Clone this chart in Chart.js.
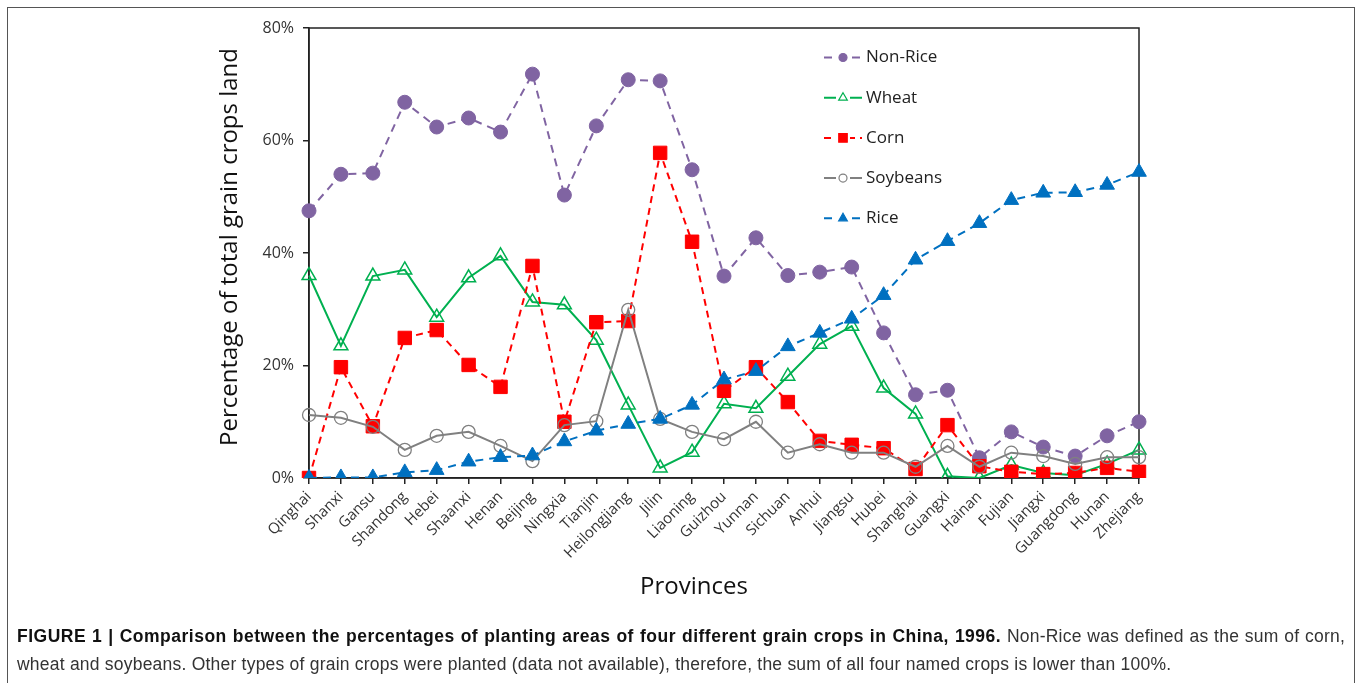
<!DOCTYPE html>
<html>
<head>
<meta charset="utf-8">
<script src="https://cdn.jsdelivr.net/npm/chart.js@4/dist/chart.umd.min.js"></script>
<style>
  html, body { margin: 0; padding: 0; background: #fff; }
  body { width: 1360px; height: 683px; position: relative; overflow: hidden; }
  #frame { position: absolute; left: 7px; top: 7px; width: 1348px; height: 690px; border: 1.5px solid #555; box-sizing: border-box; }
  #wrap { position: absolute; left: 0; top: 0; width: 1360px; height: 683px; }
  #caption { position: absolute; left: 17px; top: 622px; width: 1328px; font-family: "Liberation Sans", Arial, sans-serif; font-size: 17.5px; letter-spacing: 0.22px; line-height: 28px; color: #333; white-space: nowrap; }
  #caption .l1 { text-align: justify; text-align-last: justify; }
  #caption b { color: #111; letter-spacing: 0.5px; }
</style>
</head>
<body>
<div id="frame"></div>
<div id="wrap"><canvas id="c" width="1360" height="683"></canvas></div>
<div id="caption"><div class="l1"><b>FIGURE 1 | Comparison between the percentages of planting areas of four different grain crops in China, 1996.</b> Non-Rice was defined as the sum of corn,</div><div>wheat and soybeans. Other types of grain crops were planted (data not available), therefore, the sum of all four named crops is lower than 100%.</div></div>
<script>
// Provinces of China, ordered by rice share
const provinces = ["Qinghai", "Shanxi", "Gansu", "Shandong", "Hebei", "Shaanxi", "Henan", "Beijing", "Ningxia", "Tianjin", "Heilongjiang", "Jilin", "Liaoning", "Guizhou", "Yunnan", "Sichuan", "Anhui", "Jiangsu", "Hubei", "Shanghai", "Guangxi", "Hainan", "Fujian", "Jiangxi", "Guangdong", "Hunan", "Zhejiang"];

// Share of total grain crop land (%), 1996
const nonRice  = [47.5, 54.0, 54.2, 66.8, 62.4, 64.0, 61.5, 71.8, 50.3, 62.6, 70.8, 70.6, 54.8, 35.9, 42.7, 36.0, 36.6, 37.5, 25.8, 14.8, 15.6, 3.6, 8.2, 5.5, 3.9, 7.5, 10.0];
const wheat    = [36.0, 23.5, 35.9, 37.0, 28.6, 35.6, 39.5, 31.3, 30.8, 24.5, 13.0, 1.8, 4.6, 13.2, 12.4, 18.1, 23.8, 27.0, 16.0, 11.4, 0.3, 0.0, 2.3, 0.9, 0.5, 2.5, 5.0];
const corn     = [0.0, 19.7, 9.2, 24.9, 26.3, 20.1, 16.2, 37.7, 10.0, 27.7, 27.9, 57.8, 42.0, 15.5, 19.7, 13.5, 6.6, 5.9, 5.3, 1.6, 9.4, 2.1, 1.1, 0.7, 0.9, 1.8, 1.1];
const soybeans = [11.2, 10.7, 9.1, 5.0, 7.5, 8.2, 5.7, 3.0, 9.4, 10.1, 29.9, 10.5, 8.2, 6.9, 10.0, 4.5, 6.0, 4.5, 4.5, 2.0, 5.7, 2.0, 4.5, 3.9, 2.5, 3.7, 3.7];
const rice     = [0.0, 0.1, 0.1, 1.0, 1.4, 2.9, 3.7, 4.0, 6.5, 8.4, 9.6, 10.5, 13.0, 17.5, 19.0, 23.4, 25.8, 28.3, 32.5, 38.8, 42.1, 45.3, 49.4, 50.7, 50.8, 52.1, 54.4];

const yTicks = [0, 20, 40, 60, 80];
const xTitle = 'Provinces';
const yTitle = 'Percentage of total grain crops land';

const baseFamily = "'Open Sans', 'Noto Sans', sans-serif";
const tickFont = { family: baseFamily, size: 16 };

// Axis titles
const axisTitles = {
  id: 'axisTitles',
  afterDraw(chart) {
    const ctx = chart.ctx;
    ctx.save();
    ctx.fillStyle = '#111';
    ctx.font = '24px ' + baseFamily;
    ctx.textAlign = 'center';
    ctx.textBaseline = 'middle';
    ctx.fillText(xTitle, 694, 587);
    ctx.translate(230, 247);
    ctx.rotate(-Math.PI / 2);
    ctx.fillText(yTitle, 0, 0);
    ctx.restore();
  }
};

// Line+marker legend drawn inside the plot, in dataset order
const insideLegend = {
  id: 'insideLegend',
  afterDraw(chart) {
    const ctx = chart.ctx;
    const x0 = 824, x1 = 862, xm = 843, yStart = 57.5, gap = 40.2;
    chart.data.datasets.forEach((ds, i) => {
      const y = yStart + i * gap;
      ctx.save();
      ctx.strokeStyle = ds.borderColor;
      ctx.lineWidth = ds.borderWidth;
      ctx.setLineDash(ds.borderDash || []);
      ctx.beginPath();
      ctx.moveTo(x0, y);
      ctx.lineTo(x1, y);
      ctx.stroke();
      ctx.setLineDash([]);
      ctx.fillStyle = '#fff';
      ctx.fillRect(xm - 7, y - 6, 14, 12);
      ctx.fillStyle = ds.pointBackgroundColor;
      ctx.strokeStyle = ds.pointBorderColor;
      ctx.lineWidth = 1.2;
      Chart.helpers.drawPoint(ctx, { pointStyle: ds.pointStyle, radius: ds.legendRadius, borderWidth: 1.2, rotation: 0 }, xm, y);
      ctx.restore();
      ctx.save();
      ctx.fillStyle = '#222';
      ctx.font = '17px ' + baseFamily;
      ctx.textBaseline = 'middle';
      ctx.fillText(ds.label, 866, y);
      ctx.restore();
    });
  }
};

// Box around the plotting area
const plotBox = {
  id: 'plotBox',
  beforeDatasetsDraw(chart) {
    const a = chart.chartArea, ctx = chart.ctx;
    ctx.save();
    ctx.strokeStyle = '#222';
    ctx.lineWidth = 1.5;
    ctx.strokeRect(a.left, a.top, a.right - a.left, a.bottom - a.top);
    ctx.restore();
  }
};

new Chart(document.getElementById('c'), {
  type: 'line',
  data: {
    labels: provinces,
    datasets: [
      { label: 'Non-Rice', data: nonRice, order: 4, borderColor: '#8064A2', borderWidth: 2, borderDash: [8, 6],
        pointStyle: 'circle', pointRadius: 7, pointBackgroundColor: '#8064A2', pointBorderColor: '#8064A2', pointBorderWidth: 1, legendRadius: 4 },
      { label: 'Wheat', data: wheat, order: 3, borderColor: '#00B050', borderWidth: 2,
        pointStyle: 'triangle', pointRadius: 8, pointBackgroundColor: 'rgba(255,255,255,0)', pointBorderColor: '#00B050', pointBorderWidth: 1.5, legendRadius: 5 },
      { label: 'Corn', data: corn, order: 2, borderColor: '#FF0000', borderWidth: 2, borderDash: [7, 5],
        pointStyle: 'rect', pointRadius: 9.5, pointBackgroundColor: '#FF0000', pointBorderColor: '#FF0000', pointBorderWidth: 1, legendRadius: 6 },
      { label: 'Soybeans', data: soybeans, order: 1, borderColor: '#808080', borderWidth: 2,
        pointStyle: 'circle', pointRadius: 6.5, pointBackgroundColor: 'rgba(255,255,255,0)', pointBorderColor: '#808080', pointBorderWidth: 1.3, legendRadius: 4 },
      { label: 'Rice', data: rice, order: 0, borderColor: '#0070C0', borderWidth: 2, borderDash: [8, 6],
        pointStyle: 'triangle', pointRadius: 8.5, pointBackgroundColor: '#0070C0', pointBorderColor: '#0070C0', pointBorderWidth: 1, legendRadius: 5 }
    ]
  },
  options: {
    responsive: false,
    animation: false,
    events: [],
    layout: { padding: { left: 0, top: 28, right: 221, bottom: 0 } },
    plugins: { legend: { display: false }, tooltip: { enabled: false } },
    elements: { line: { tension: 0 } },
    scales: {
      x: {
        type: 'category',
        offset: false,
        grid: { display: true, drawOnChartArea: false, drawTicks: true, tickLength: 6, color: '#222', lineWidth: 1.5 },
        border: { display: true, color: '#222', width: 1.5 },
        ticks: { autoSkip: false, minRotation: 45, maxRotation: 45, color: '#333', padding: 4,
                 font: { family: baseFamily, size: 15 } },
        afterFit(scale) { scale.height = 205; }
      },
      y: {
        min: 0, max: 80,
        afterBuildTicks(scale) { scale.ticks = yTicks.map(v => ({ value: v })); },
        grid: { display: true, drawOnChartArea: false, drawTicks: true, tickLength: 6, color: '#222', lineWidth: 1.5 },
        border: { display: true, color: '#222', width: 1.5 },
        ticks: { color: '#333', padding: 9, font: tickFont, callback: v => v + '%' },
        afterFit(scale) { scale.width = 309; }
      }
    }
  },
  plugins: [plotBox, insideLegend, axisTitles]
});
</script>
</body>
</html>
